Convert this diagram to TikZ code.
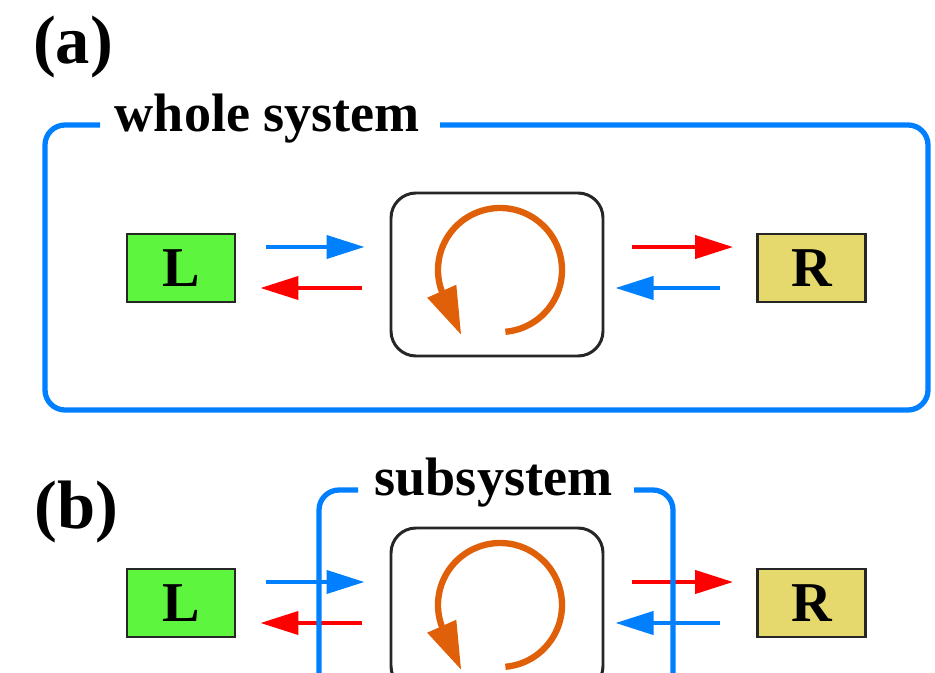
\documentclass[tikz,border=0pt]{standalone}
\usepackage{fontspec}
\setmainfont{Liberation Serif}
\usetikzlibrary{arrows.meta}
\definecolor{sysblue}{RGB}{0,128,255}
\definecolor{flowred}{RGB}{255,0,0}
\definecolor{boxgreen}{RGB}{94,245,62}
\definecolor{boxkhaki}{RGB}{229,217,110}
\definecolor{cycorange}{RGB}{224,96,10}
\tikzset{
  reservoir/.style={draw=black!85,line width=0.8pt,minimum width=1.08cm,minimum height=0.68cm,
    inner sep=0pt,font=\fontsize{16}{19}\selectfont\bfseries},
  core/.style={draw=black!85,line width=0.85pt,rounded corners=0.25cm,
    minimum width=2.12cm,minimum height=1.63cm,inner sep=0pt},
  flow/.style={line width=1.15pt,-{Triangle[length=0.38cm,width=0.23cm]}},
  sysframe/.style={draw=sysblue,line width=1.5pt,rounded corners=0.2cm},
  cyclearrow/.style={draw=cycorange,line width=1.8pt,-{Triangle[length=0.48cm,width=0.30cm]}},
  panellabel/.style={inner sep=0pt,font=\fontsize{19.5}{23}\selectfont\bfseries},
  syslabel/.style={inner sep=0pt,anchor=base,font=\fontsize{15.4}{18}\selectfont\bfseries}
}
\begin{document}
\begin{tikzpicture}
  \useasboundingbox (0,0) rectangle (9.35,-6.73);
  \clip (0,0) rectangle (9.35,-6.73);
  % labels
  \node[panellabel] (taga) at (0.73,-0.475) {(a)};
  \node[panellabel] (tagb) at (0.765,-5.125) {(b)};
  \node[syslabel] (whole) at (2.675,-1.32) {whole system};
  \node[syslabel] (sub) at (4.935,-4.95) {subsystem};
  % both panels
  \foreach \p/\dy in {a/0,b/-3.35}{
    \node[reservoir,fill=boxgreen] (L\p) at (1.81,-2.68+\dy) {L};
    \node[reservoir,fill=boxkhaki] (R\p) at (8.115,-2.68+\dy) {R};
    \node[core] (C\p) at (4.97,-2.745+\dy) {};
    \coordinate (O\p) at (5.00,-2.70+\dy);
    \draw[cyclearrow] ([shift={(-85:0.62)}]O\p) arc[start angle=-85,end angle=200,radius=0.62]
      -- ++(-66:0.48);
    \draw[flow,sysblue,shorten <=0.3cm,shorten >=0.25cm] ([yshift=0.21cm]L\p.east)
      -- ([yshift=0.21cm]L\p.east -| C\p.west);
    \draw[flow,flowred,shorten <=0.28cm,shorten >=0.24cm] ([yshift=-0.2cm]L\p.east -| C\p.west)
      -- ([yshift=-0.2cm]L\p.east);
    \draw[flow,flowred,shorten <=0.27cm,shorten >=0.23cm] ([yshift=0.21cm]R\p.west -| C\p.east)
      -- ([yshift=0.21cm]R\p.west);
    \draw[flow,sysblue,shorten <=0.36cm,shorten >=0.11cm] ([yshift=-0.2cm]R\p.west)
      -- ([yshift=-0.2cm]R\p.west -| C\p.east);
  }
  % frames
  \draw[sysframe] (1.00,-1.25) -- (0.45,-1.25) -- (0.45,-4.10) -- (9.28,-4.10)
    -- (9.28,-1.25) -- (4.40,-1.25);
  \draw[sysframe] (3.58,-4.90) -- (3.19,-4.90) -- (3.19,-6.90);
  \draw[sysframe] (6.34,-4.90) -- (6.73,-4.90) -- (6.73,-6.90);
\end{tikzpicture}
\end{document}
